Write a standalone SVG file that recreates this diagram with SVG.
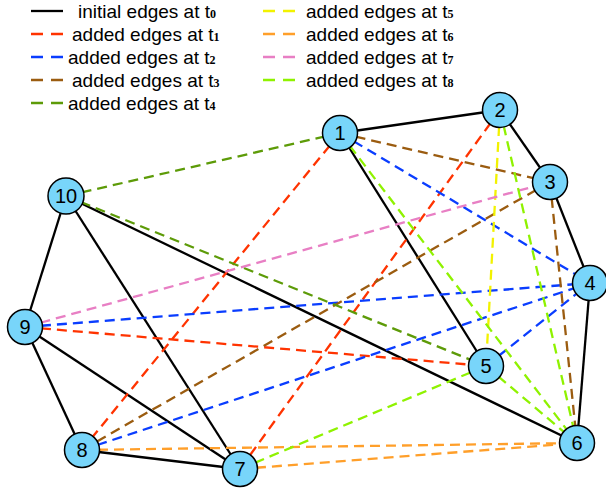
<svg xmlns="http://www.w3.org/2000/svg" width="606" height="491" viewBox="0 0 606 491">
<style>
.lg{font-family:"Liberation Sans",Arial,sans-serif;font-size:19px;fill:#000}
.sub{font-family:"Liberation Serif","Times New Roman",serif;font-size:12px;font-weight:bold}
.e{stroke-width:2.3;fill:none}
.d{stroke-dasharray:10,6}
.ld{stroke-dasharray:12,8;stroke-width:2.3}
.t0{stroke:#000}
.t1{stroke:#ff3300}
.t2{stroke:#0a3dff}
.t3{stroke:#9b5c10}
.t4{stroke:#5d9b08}
.t5{stroke:#f2f200}
.t6{stroke:#ff9f2a}
.t7{stroke:#e87fc4}
.t8{stroke:#8ff200}
.n circle{fill:#78d5fa;stroke:#000;stroke-width:1.5}
.n text{font-family:"Liberation Sans",Arial,sans-serif;font-size:20px;text-anchor:middle;fill:#000}
</style>
<g id="legend">
<line class="t0" x1="31" y1="11" x2="63" y2="11" stroke-width="2.3"/>
<text class="lg" x="78" y="18">initial edges at t<tspan class="sub">0</tspan></text>
<line class="t1 ld" x1="31" y1="34" x2="63" y2="34"/>
<text class="lg" x="72" y="41">added edges at t<tspan class="sub">1</tspan></text>
<line class="t2 ld" x1="31" y1="57" x2="63" y2="57"/>
<text class="lg" x="68" y="64">added edges at t<tspan class="sub">2</tspan></text>
<line class="t3 ld" x1="31" y1="80" x2="63" y2="80"/>
<text class="lg" x="72" y="87">added edges at t<tspan class="sub">3</tspan></text>
<line class="t4 ld" x1="31" y1="103" x2="63" y2="103"/>
<text class="lg" x="68" y="110">added edges at t<tspan class="sub">4</tspan></text>
<line class="t5 ld" x1="263" y1="11" x2="295" y2="11"/>
<text class="lg" x="306" y="18">added edges at t<tspan class="sub">5</tspan></text>
<line class="t6 ld" x1="263" y1="34" x2="295" y2="34"/>
<text class="lg" x="306" y="41">added edges at t<tspan class="sub">6</tspan></text>
<line class="t7 ld" x1="263" y1="57" x2="295" y2="57"/>
<text class="lg" x="306" y="64">added edges at t<tspan class="sub">7</tspan></text>
<line class="t8 ld" x1="263" y1="80" x2="295" y2="80"/>
<text class="lg" x="306" y="87">added edges at t<tspan class="sub">8</tspan></text>
</g>
<g id="edges">
<line class="e t0" x1="340" y1="133" x2="500" y2="110"/>
<line class="e t0" x1="500" y1="110" x2="550" y2="182"/>
<line class="e t0" x1="550" y1="182" x2="590" y2="283"/>
<line class="e t0" x1="590" y1="283" x2="577" y2="443"/>
<line class="e t0" x1="340" y1="133" x2="486" y2="366"/>
<line class="e t0" x1="66" y1="196" x2="25" y2="327"/>
<line class="e t0" x1="66" y1="196" x2="240" y2="469"/>
<line class="e t0" x1="66" y1="196" x2="577" y2="443"/>
<line class="e t0" x1="25" y1="327" x2="82" y2="450"/>
<line class="e t0" x1="25" y1="327" x2="240" y2="469"/>
<line class="e t0" x1="82" y1="450" x2="240" y2="469"/>
<line class="e d t1" x1="340" y1="133" x2="82" y2="450"/>
<line class="e d t1" x1="500" y1="110" x2="240" y2="469"/>
<line class="e d t1" x1="25" y1="327" x2="486" y2="366"/>
<line class="e d t2" x1="340" y1="133" x2="590" y2="283"/>
<line class="e d t2" x1="25" y1="327" x2="590" y2="283"/>
<line class="e d t2" x1="82" y1="450" x2="590" y2="283"/>
<line class="e d t2" x1="486" y1="366" x2="590" y2="283"/>
<line class="e d t3" x1="340" y1="133" x2="550" y2="182"/>
<line class="e d t3" x1="550" y1="182" x2="82" y2="450"/>
<line class="e d t3" x1="550" y1="182" x2="577" y2="443"/>
<line class="e d t4" x1="66" y1="196" x2="340" y2="133"/>
<line class="e d t4" x1="66" y1="196" x2="486" y2="366"/>
<line class="e d t5" x1="500" y1="110" x2="486" y2="366"/>
<line class="e d t6" x1="82" y1="450" x2="577" y2="443"/>
<line class="e d t6" x1="240" y1="469" x2="577" y2="443"/>
<line class="e d t7" x1="25" y1="327" x2="550" y2="182"/>
<line class="e d t8" x1="340" y1="133" x2="577" y2="443"/>
<line class="e d t8" x1="500" y1="110" x2="577" y2="443"/>
<line class="e d t8" x1="486" y1="366" x2="577" y2="443"/>
<line class="e d t8" x1="240" y1="469" x2="486" y2="366"/>
</g>
<g id="node1" class="n"><circle cx="340" cy="133" r="17.5"/><text x="340" y="140">1</text></g>
<g id="node2" class="n"><circle cx="500" cy="110" r="17.5"/><text x="500" y="117">2</text></g>
<g id="node3" class="n"><circle cx="550" cy="182" r="17.5"/><text x="550" y="189">3</text></g>
<g id="node4" class="n"><circle cx="590" cy="283" r="17.5"/><text x="590" y="290">4</text></g>
<g id="node5" class="n"><circle cx="486" cy="366" r="17.5"/><text x="486" y="373">5</text></g>
<g id="node6" class="n"><circle cx="577" cy="443" r="17.5"/><text x="577" y="450">6</text></g>
<g id="node7" class="n"><circle cx="240" cy="469" r="17.5"/><text x="240" y="476">7</text></g>
<g id="node8" class="n"><circle cx="82" cy="450" r="17.5"/><text x="82" y="457">8</text></g>
<g id="node9" class="n"><circle cx="25" cy="327" r="17.5"/><text x="25" y="334">9</text></g>
<g id="node10" class="n"><circle cx="66" cy="196" r="18"/><text x="66" y="203">10</text></g>
</svg>
